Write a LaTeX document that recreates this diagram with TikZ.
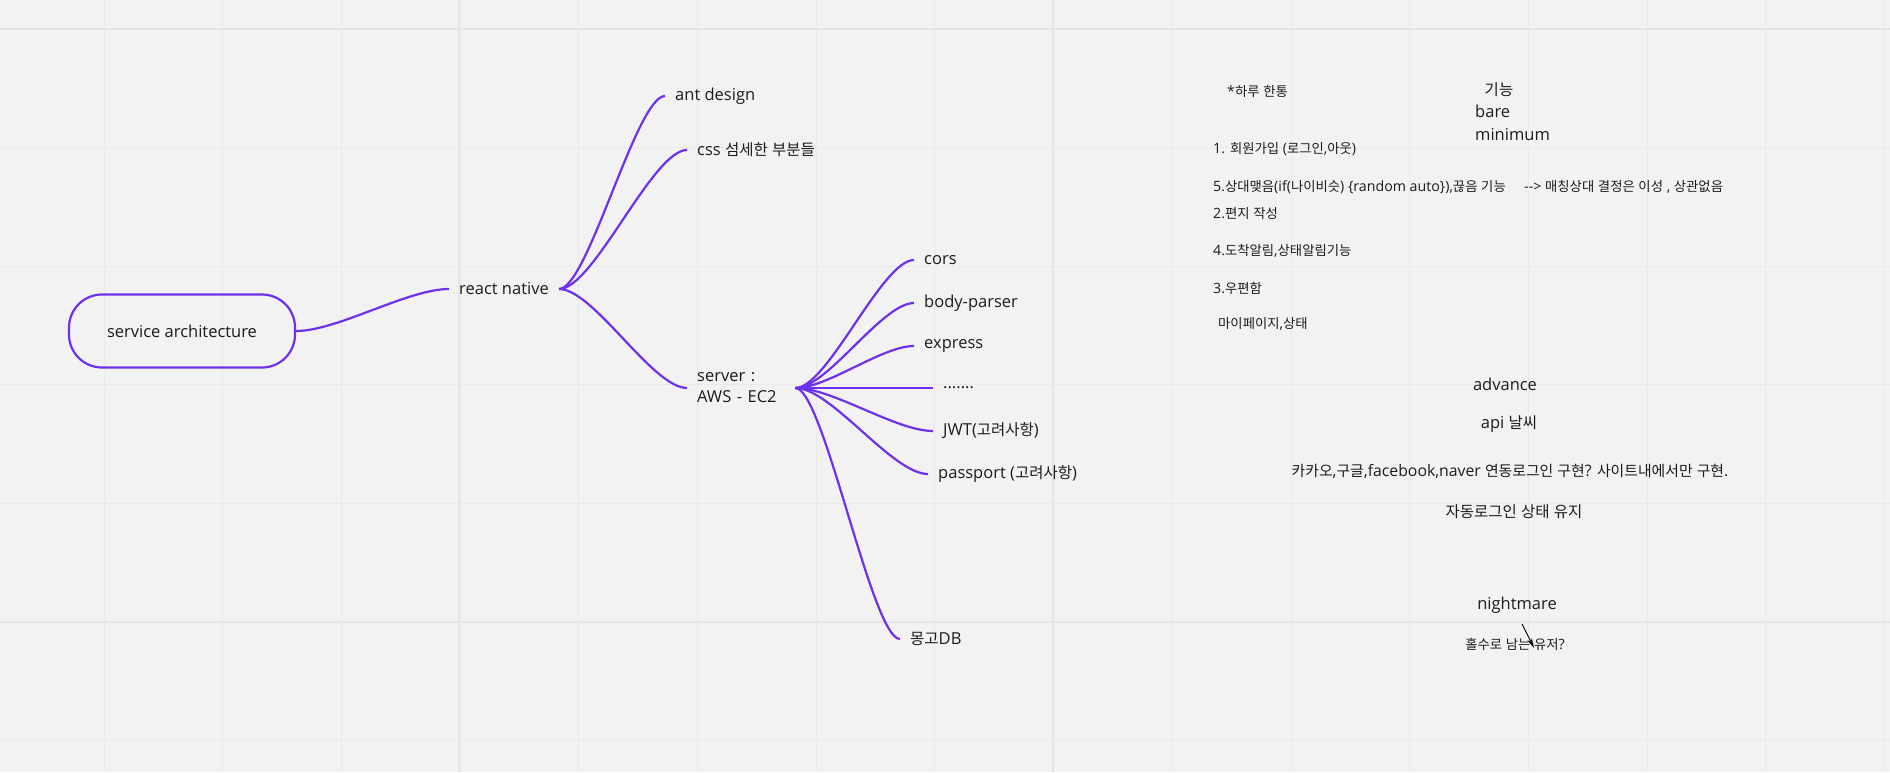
\documentclass[tikz,border=0pt]{standalone}
\usepackage{fontspec}
\usepackage{tikz}
\usetikzlibrary{arrows.meta,calc}
\setmainfont{Open Sans}
\newfontfamily\krfont{Noto Sans CJK KR}[Scale=0.94]
% hangul syllables switch to the CJK font on their own
\XeTeXinterchartokenstate=1
\newXeTeXintercharclass\krclass
\newcount\krcount
\krcount="AC00
\loop\ifnum\krcount<"D7A4 \XeTeXcharclass\krcount=\krclass \advance\krcount by 1 \repeat
\XeTeXinterchartoks 0 \krclass = {\begingroup\krfont}
\XeTeXinterchartoks 4095 \krclass = {\begingroup\krfont}
\XeTeXinterchartoks \krclass 0 = {\endgroup}
\XeTeXinterchartoks \krclass 4095 = {\endgroup}
\definecolor{board}{HTML}{F2F2F2}
\definecolor{gridline}{HTML}{EAEAEA}
\definecolor{gridmajor}{HTML}{E5E5E5}
\definecolor{violet}{HTML}{6D31EE}
\definecolor{ink}{HTML}{1C1C1C}

\begin{document}
\begin{tikzpicture}[
  x=1pt,y=-1pt,
  topic/.style={text=ink,inner xsep=10pt,inner ysep=2pt,anchor=west,font=\fontsize{16.5}{21}\selectfont},
  note/.style={text=ink,inner sep=1pt,font=\fontsize{16.5}{21}\selectfont},
  smallnote/.style={text=ink,inner sep=1pt,anchor=west,font=\fontsize{14.2}{17}\selectfont},
  rootbox/.style={draw=violet,line width=2.2pt,rounded corners=33pt,minimum width=226pt,minimum height=73pt,text=ink,font=\fontsize{16.5}{21}\selectfont},
  branch/.style={draw=violet,line width=2.2pt,to path={.. controls ($(\tikztostart)!0.27!(\tikztotarget |- \tikztostart)$) and ($(\tikztotarget)!0.27!(\tikztostart |- \tikztotarget)$) .. (\tikztotarget)}},
  pointer/.style={-{Stealth[length=10pt,width=5pt]},line width=0.9pt,draw=black}
]
\useasboundingbox (0,0) rectangle (1890,772);
\fill[board] (0,0) rectangle (1890,772);
\foreach \i in {1,...,16} \draw[gridline,line width=1pt] ({-14.7+118.7*\i},0) -- ({-14.7+118.7*\i},772);
\foreach \j in {0,...,6} \draw[gridline,line width=1pt] (0,{29+118.65*\j}) -- (1890,{29+118.65*\j});
\draw[gridmajor,line width=1.3pt] (459,0) -- (459,772) (1053,0) -- (1053,772);
\draw[gridmajor,line width=1.3pt] (0,29) -- (1890,29) (0,622) -- (1890,622);

% mind map
\node[rootbox] (root) at (182,331) {service architecture};
\node[topic] (rn) at (449,289) {react native};
\node[topic] (ant) at (665,96) {ant design};
\node[topic] (css) at (687,150) {css 섬세한 부분들};
\node[topic,align=left,text width=88pt] (server) at (687,388) {server :\\AWS - EC2};
\node[topic] (cors) at (914,260) {cors};
\node[topic] (body) at (914,303) {body-parser};
\node[topic] (express) at (914,346) {express};
\node[topic] (etc) at (933,388) {.......};
\node[topic] (jwt) at (933,431) {JWT(고려사항)};
\node[topic] (passport) at (928,474) {passport (고려사항)};
\node[topic] (mongo) at (900,639) {몽고DB};
\draw[branch] (root.east) to (rn.west);
\draw[branch] (rn.east) to (ant.west);
\draw[branch] (rn.east) to (css.west);
\draw[branch] (rn.east) to (server.west);
\foreach \leaf in {cors,body,express,etc,jwt,passport,mongo}
  \draw[branch] (server.east) to (\leaf.west);

% notes on the right
\node[smallnote] (daily) at (1226,92) {*하루 한통};
\node[note] (feat) at (1499,90) {기능};
\node[note,anchor=west] (bare) at (1474,111) {bare};
\node[note,anchor=west] (minimum) at (1474,135) {minimum};
\node[smallnote] (f1) at (1212,149) {1. 회원가입 (로그인,아웃)};
\node[smallnote] (f5) at (1212,187) {5.상대맺음(if(나이비슷) \{random auto\}),끊음 기능};
\node[smallnote] (match) at (1523,187) {-{}-> 매칭상대 결정은 이성 , 상관없음};
\node[smallnote] (f2) at (1212,213) {2.편지 작성};
\node[smallnote] (f4) at (1212,251) {4.도착알림,상태알림기능};
\node[smallnote] (f3) at (1212,288) {3.우편함};
\node[smallnote] (mypage) at (1217,324) {마이페이지,상태};
\node[note] (advance) at (1505,384) {advance};
\node[note] (weather) at (1509,424) {api 날씨};
\node[note,font=\fontsize{15.8}{20}\selectfont] (social) at (1510,471) {카카오,구글,facebook,naver 연동로그인 구현? 사이트내에서만 구현.};
\node[note] (autologin) at (1514,512) {자동로그인 상태 유지};
\node[note] (nightmare) at (1517,605) {nightmare};
\node[smallnote,anchor=center] (odd) at (1515,644) {홀수로 남는 유저?};
\coordinate (tail) at (1522,624);
\coordinate (tip) at (1534,648);
\draw[pointer] (tail) -- (tip);
\end{tikzpicture}
\end{document}
